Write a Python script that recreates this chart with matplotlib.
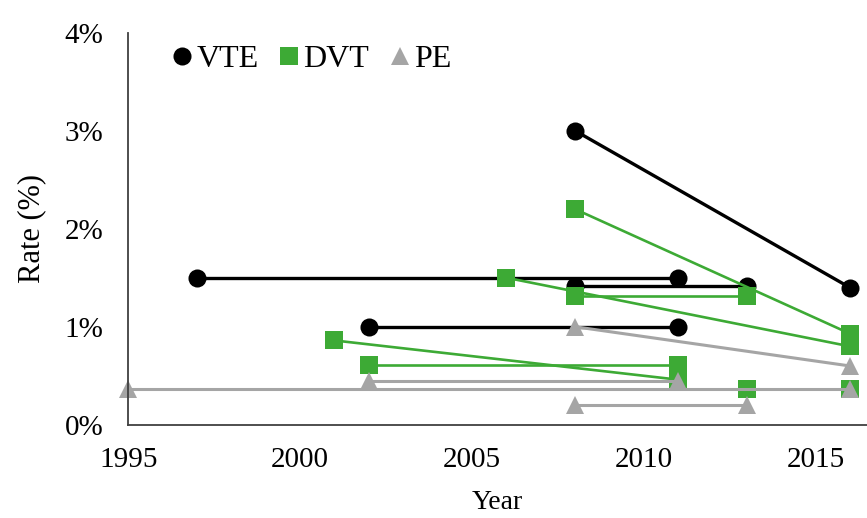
import matplotlib
matplotlib.use("Agg")
import matplotlib.pyplot as plt
from matplotlib.lines import Line2D

# Each series: list of (start_year, start_rate, end_year, end_rate) in %
vte_start_year = [1997, 2002, 2008, 2008]
vte_start_rate = [1.50, 1.00, 3.00, 1.42]
vte_end_year = [2011, 2011, 2016, 2013]
vte_end_rate = [1.50, 1.00, 1.40, 1.42]

dvt_start_year = [2008, 2006, 2008, 2001, 2002, 2013]
dvt_start_rate = [2.20, 1.50, 1.31, 0.86, 0.61, 0.36]
dvt_end_year = [2016, 2016, 2013, 2011, 2011, 2016]
dvt_end_rate = [0.93, 0.80, 1.31, 0.46, 0.61, 0.36]

pe_start_year = [1995, 2002, 2008, 2008]
pe_start_rate = [0.36, 0.45, 1.00, 0.20]
pe_end_year = [2016, 2011, 2016, 2013]
pe_end_rate = [0.36, 0.45, 0.60, 0.20]

series_names = ["VTE", "DVT", "PE"]
x_ticks = [1995, 2000, 2005, 2010, 2015]
y_ticks = [0, 1, 2, 3, 4]

plt.rcParams["font.family"] = ["Liberation Serif", "DejaVu Serif"]

fig = plt.figure(figsize=(8.67, 5.18), dpi=100)
ax = fig.add_axes([0.148, 0.18, 0.852, 0.757])

styles = [
    dict(color="#000000", marker="o", ms=13, lw=2.4),
    dict(color="#3DAA35", marker="s", ms=13, lw=1.9),
    dict(color="#A5A5A5", marker="^", ms=13, lw=2.2),
]
data = [
    (vte_start_year, vte_start_rate, vte_end_year, vte_end_rate),
    (dvt_start_year, dvt_start_rate, dvt_end_year, dvt_end_rate),
    (pe_start_year, pe_start_rate, pe_end_year, pe_end_rate),
]

for (sy, sr, ey, er), st in zip(data, styles):
    for a, b, c, d in zip(sy, sr, ey, er):
        ax.plot([a, c], [b, d], color=st["color"], lw=st["lw"],
                marker=st["marker"], ms=st["ms"], markeredgewidth=0,
                solid_capstyle="butt", clip_on=False)

ax.set_xlim(1995, 2016.5)
ax.set_ylim(0, 4)
ax.set_xticks(x_ticks)
ax.set_yticks(y_ticks)
ax.set_yticklabels([f"{v}%" for v in y_ticks])
ax.tick_params(length=0, labelsize=21, colors="#000000")
ax.tick_params(axis="x", pad=16)
ax.tick_params(axis="y", pad=18)
for s in ["top", "right"]:
    ax.spines[s].set_visible(False)
for s in ["left", "bottom"]:
    ax.spines[s].set_color("#404040")
    ax.spines[s].set_linewidth(1.3)

ax.set_xlabel("Year", fontsize=20, labelpad=12)
ax.set_ylabel("Rate (%)", fontsize=22, labelpad=13)

handles = [Line2D([], [], color=st["color"], marker=st["marker"], ls="none",
                  ms=13, markeredgewidth=0) for st in styles]
ax.legend(handles, series_names, loc="upper left", bbox_to_anchor=(0.021, 1.027),
          ncol=3, frameon=False, fontsize=23, handletextpad=-0.05,
          columnspacing=0.45, handlelength=1.0, borderaxespad=0.3)

fig.savefig("out.png", dpi=100)
